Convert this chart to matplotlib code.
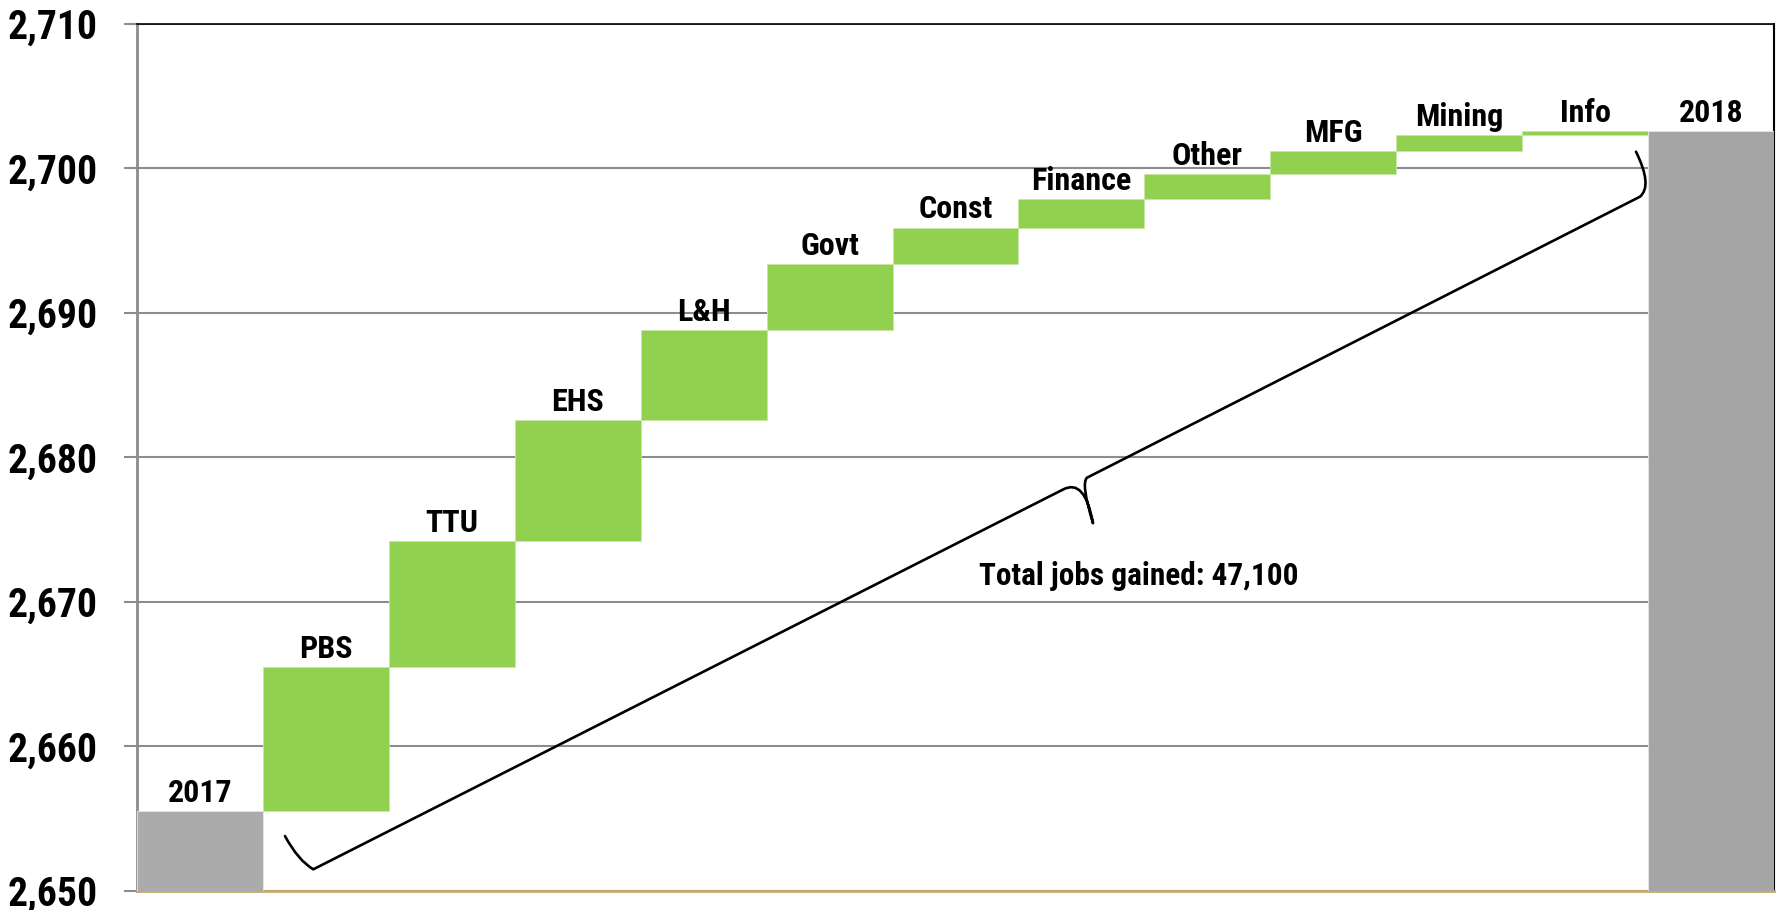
import matplotlib
matplotlib.use('Agg')
import matplotlib.pyplot as plt
from matplotlib.path import Path
from matplotlib.patches import PathPatch
from matplotlib.ticker import FuncFormatter

# ---- data (thousands of jobs) ----
categories = ['2017', 'PBS', 'TTU', 'EHS', 'L&H', 'Govt', 'Const', 'Finance',
              'Other', 'MFG', 'Mining', 'Info', '2018']
start_total = 2655.5
changes = [10.0, 8.7, 8.4, 6.2, 4.6, 2.5, 2.0, 1.7, 1.6, 1.1, 0.3]
end_total = 2702.6
y_ticks = [2650, 2660, 2670, 2680, 2690, 2700, 2710]
total_label = 'Total jobs gained: 47,100'

FONT = ['Liberation Sans Narrow', 'Arial Narrow', 'Roboto Condensed',
        'PT Sans Narrow', 'Archivo Narrow', 'Open Sans Condensed',
        'Liberation Sans', 'DejaVu Sans']
plt.rcParams['font.family'] = FONT
plt.rcParams['font.weight'] = 'bold'

GREEN = '#92D050'
GREY_START = '#ABABAB'
GREY_END = '#A5A5A5'

fig = plt.figure(figsize=(17.83, 9.10), dpi=100)
ax = fig.add_axes([137 / 1783, 19 / 910, 1637 / 1783, 867.3 / 910])

# bars
x = list(range(len(categories)))
ymin = y_ticks[0]
tops = []
ax.bar(x[0], start_total - ymin, bottom=ymin, width=1.0, color=GREY_START,
       edgecolor='#E8E8E8', linewidth=0.6, zorder=3)
tops.append(start_total)
cum = start_total
for i, ch in enumerate(changes, start=1):
    ax.bar(x[i], ch, bottom=cum, width=1.0, color=GREEN,
           edgecolor='#C9E8A8', linewidth=0.6, zorder=3)
    cum += ch
    tops.append(cum)
ax.bar(x[-1], end_total - ymin, bottom=ymin, width=1.0, color=GREY_END,
       edgecolor='#E8E8E8', linewidth=0.6, zorder=3)
tops.append(end_total)

for xi, cat, top in zip(x, categories, tops):
    ax.annotate(cat, (xi, top), xytext=(0, 6.5), textcoords='offset points',
                ha='center', va='baseline', fontsize=23, fontweight='bold',
                color='black', zorder=5)

# axes styling
ax.set_xlim(-0.5, len(categories) - 0.5)
ax.set_ylim(y_ticks[0], y_ticks[-1])
ax.set_yticks(y_ticks)
ax.yaxis.set_major_formatter(FuncFormatter(lambda v, p: f'{v:,.0f}'))
ax.set_xticks([])
ax.yaxis.grid(True, color='#8C8C8C', linewidth=1.5)
ax.set_axisbelow(True)
ax.tick_params(axis='y', direction='out', length=9.5, width=1.5, color='#8C8C8C',
               pad=18.5, labelsize=28.5)
for lab in ax.get_yticklabels():
    lab.set_fontweight('bold')

ax.spines['left'].set_color('#8C8C8C')
ax.spines['left'].set_linewidth(2)
ax.spines['bottom'].set_color('#C8A96A')
ax.spines['bottom'].set_linewidth(2)
ax.spines['top'].set_color('black')
ax.spines['top'].set_linewidth(1.2)
ax.spines['right'].set_color('black')
ax.spines['right'].set_linewidth(1.5)

# curly brace annotation (axes fraction)
verts = [
    (0.0904, 0.0634),
    (0.0985, 0.0350), (0.1077, 0.0250),
    (0.5659, 0.4631),
    (0.5790, 0.4760), (0.5840, 0.4240),
    (0.5765, 0.4700), (0.5803, 0.4765),
    (0.9181, 0.8005),
    (0.9260, 0.8130), (0.9157, 0.8524),
]
codes = [Path.MOVETO,
         Path.CURVE3, Path.CURVE3,
         Path.LINETO,
         Path.CURVE3, Path.CURVE3,
         Path.CURVE3, Path.CURVE3,
         Path.LINETO,
         Path.CURVE3, Path.CURVE3]
brace = PathPatch(Path(verts, codes), transform=ax.transAxes, fill=False,
                  edgecolor='black', linewidth=1.9, zorder=4,
                  capstyle='round', joinstyle='round')
ax.add_patch(brace)

ax.text(0.612, 0.3528, total_label, transform=ax.transAxes, ha='center',
        va='baseline', fontsize=22.5, fontweight='bold', color='black', zorder=5)

fig.savefig('out.png', dpi=100)
